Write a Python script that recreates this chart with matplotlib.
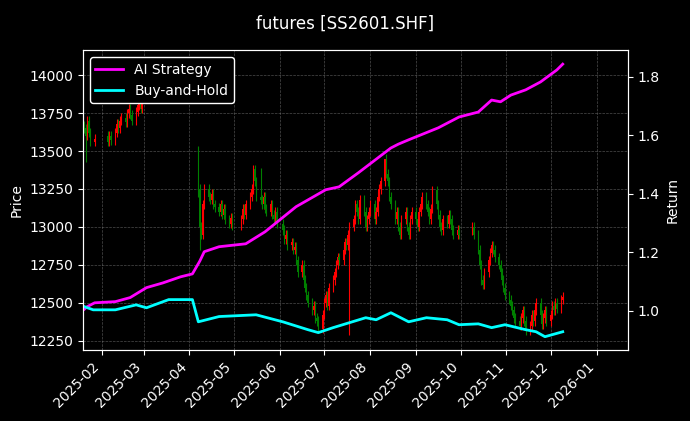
import matplotlib
matplotlib.use("Agg")
import matplotlib.pyplot as plt
import matplotlib.dates as mdates
import pandas as pd
import numpy as np

# ---- data ----
holidays = ["2025-01-28","2025-01-29","2025-01-30","2025-01-31","2025-02-03","2025-02-04",
            "2025-04-04","2025-05-01","2025-05-02","2025-05-05","2025-06-02",
            "2025-10-01","2025-10-02","2025-10-03","2025-10-06","2025-10-07","2025-10-08"]
closes_by_month = {
    1: [13650,13600,13700,13620,13560,13580],
    2: [13560,13600,13570,13620,13680,13650,13700,13720,13690,13750,13780,13740,13700,13760,13800,13820,13780,13850],
    3: [13900,13950,13980,13940,14000,14020,13980,13950,13990,14050,14030,14000,13960,13980,14010,14040,14000,13970,13950,13990,14020],
    4: [13980,13950,13900,13250,13000,12950,13150,13250,13200,13180,13220,13150,13130,13100,13150,13080,13120,13050,13020,13060,13010],
    5: [13050,13120,13080,13150,13200,13250,13380,13300,13200,13180,13150,13200,13120,13100,13150,13080,13050,13100,13020],
    6: [12980,12920,12950,12880,12900,12850,12870,12780,12700,12750,12650,12600,12550,12500,12450,12480,12400,12380,12330,12420],
    7: [12500,12550,12480,12600,12650,12700,12750,12800,12780,12850,12900,12880,12950,13000,13050,13150,13100,13050,13180,13100,13000,13050,13100],
    8: [13150,13050,13100,13200,13250,13300,13450,13350,13300,13200,13150,13050,13100,13000,12950,13050,13100,13000,12950,13050,13100],
    9: [13050,13000,13100,13150,13200,13150,13100,13050,13120,13240,13150,13080,13000,12980,13050,13020,13080,13050,12980,12950,12980,12950],
    10: [13000,12950,12850,12750,12650,12620,12700,12780,12830,12880,12850,12800,12750,12700,12650,12600,12550],
    11: [12520,12480,12450,12400,12380,12350,12400,12450,12380,12320,12350,12420,12380,12450,12500,12420,12360,12400,12450,12380],
    12: [12420,12480,12450,12500,12460,12520,12540],
}
special_opens = {"2025-04-07": 13500, "2025-02-05": 13600, "2025-10-09": 12980}
special_lows = {"2025-01-21": 13430, "2025-04-07": 13200, "2025-04-08": 12850, "2025-07-18": 12290, "2025-06-30": 12300}
special_highs = {"2025-04-07": 13530, "2025-08-11": 13440, "2025-05-19": 13390}

ai_dates = ["2025-01-20","2025-01-22","2025-01-27","2025-02-10","2025-02-20","2025-03-03","2025-03-14","2025-03-26","2025-04-03",
            "2025-04-08","2025-04-11","2025-04-21","2025-05-09","2025-05-22","2025-06-12","2025-07-02","2025-07-11",
            "2025-07-24","2025-08-15","2025-08-20","2025-08-27","2025-09-16","2025-09-30","2025-10-13","2025-10-22",
            "2025-10-28","2025-11-04","2025-11-14","2025-11-24","2025-12-05","2025-12-09"]
ai_vals = [1.005,1.014,1.027,1.031,1.045,1.079,1.095,1.116,1.126,
           1.170,1.202,1.219,1.229,1.270,1.356,1.414,1.424,
           1.472,1.557,1.570,1.585,1.626,1.663,1.680,1.721,
           1.715,1.738,1.756,1.783,1.824,1.844]
bh_dates = ["2025-01-20","2025-01-26","2025-02-10","2025-02-24","2025-03-03","2025-03-18","2025-04-03","2025-04-07",
            "2025-04-21","2025-05-16","2025-06-03","2025-06-20","2025-06-27","2025-07-07","2025-07-29","2025-08-05",
            "2025-08-15","2025-08-27","2025-09-08","2025-09-22","2025-09-30","2025-10-13","2025-10-22","2025-10-31",
            "2025-11-14","2025-11-21","2025-11-27","2025-12-09"]
bh_vals = [1.014,1.003,1.003,1.020,1.010,1.038,1.038,0.962,
           0.980,0.986,0.962,0.935,0.925,0.942,0.976,0.969,
           0.993,0.962,0.976,0.969,0.952,0.955,0.942,0.952,
           0.935,0.928,0.911,0.928]

# ---- build candles ----
hol = set(pd.to_datetime(holidays))
days = [d for d in pd.bdate_range("2025-01-20", "2025-12-09") if d not in hol]
dates, closes = [], []
for m, cl in closes_by_month.items():
    md = [d for d in days if d.month == m]
    n = min(len(md), len(cl))
    dates += md[:n]; closes += cl[:n]
opens = [closes[0] + 20] + closes[:-1]

plt.rcParams['font.family'] = ['DejaVu Sans']
fig = plt.figure(figsize=(6.9, 4.21), dpi=100, facecolor='black')
ax = fig.add_axes([0.12, 0.169, 0.79, 0.712], facecolor='black')
ax2 = ax.twinx()

xd = mdates.date2num(dates)
for x, o, c, d in zip(xd, opens, closes, dates):
    key = d.strftime("%Y-%m-%d")
    o = special_opens.get(key, o)
    col = 'red' if c >= o else 'green'
    hi = special_highs.get(key, max(o, c) + 30)
    lo = special_lows.get(key, min(o, c) - 30)
    ax.vlines(x, lo, hi, color=col, linewidth=0.8, zorder=2)
    ax.bar(x, max(abs(c - o), 5), bottom=min(o, c), width=0.8, color=col, zorder=2)

ax2.plot(pd.to_datetime(ai_dates), ai_vals, color='#ff00ff', lw=2, label='AI Strategy')
ax2.plot(pd.to_datetime(bh_dates), bh_vals, color='#00ffff', lw=2, label='Buy-and-Hold')

ax.set_ylim(12190, 14165)
ax2.set_ylim(0.866, 1.892)
ax.set_xlim(pd.Timestamp("2025-01-19"), pd.Timestamp("2026-01-22"))
ax.xaxis.set_major_locator(mdates.MonthLocator())
ax.xaxis.set_major_formatter(mdates.DateFormatter('%Y-%m'))
plt.setp(ax.get_xticklabels(), rotation=45, ha='right')
ax.grid(True, color='gray', linestyle='--', linewidth=0.5, alpha=0.6)
for a in (ax, ax2):
    a.tick_params(colors='white', labelsize=10)
    for s in a.spines.values():
        s.set_color('white')
ax.set_ylabel('Price', color='white')
ax2.set_ylabel('Return', color='white')
ax2.set_zorder(ax.get_zorder() + 1)
ax.set_zorder(0)
ax2.patch.set_visible(False)
leg = ax2.legend(loc='upper left', facecolor='black', edgecolor='white', framealpha=1.0)
for t in leg.get_texts():
    t.set_color('white')
fig.suptitle('futures [SS2601.SHF]', color='white', y=0.965, fontsize=12)
fig.savefig('out.png', dpi=100, facecolor='black')
